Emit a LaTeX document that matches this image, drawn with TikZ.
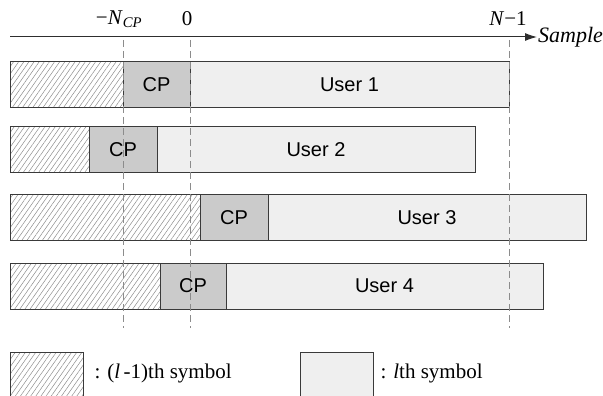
\documentclass[tikz,border=0pt]{standalone}
\usepackage{fontspec}
\setmainfont{Liberation Serif}
\setsansfont{Liberation Sans}
\usetikzlibrary{arrows.meta,positioning,patterns.meta}
\definecolor{EdgeGray}{HTML}{3A3A3A}
\definecolor{CpGray}{HTML}{CBCBCB}
\definecolor{SymGray}{HTML}{EFEFEF}
\definecolor{MarkGray}{HTML}{8C8C8C}

\begin{document}
\begin{tikzpicture}[x=1pt,y=-1pt,
        font=\fontsize{21}{24}\selectfont,
        past/.style={draw=EdgeGray,line width=1pt,outer sep=0pt,minimum height=46pt,
                     pattern={Lines[angle=55,distance=4.2pt,line width=0.5pt]},
                     pattern color=MarkGray},
        cpbox/.style={draw=EdgeGray,fill=CpGray,line width=1pt,outer sep=0pt,
                      minimum height=46pt,font=\sffamily\fontsize{20}{23}\selectfont},
        userbox/.style={draw=EdgeGray,fill=SymGray,line width=1pt,outer sep=0pt,
                        minimum height=46pt,font=\sffamily\fontsize{20}{23}\selectfont},
        sampleline/.style={MarkGray,line width=1pt,dash pattern=on 7pt off 4pt},
        axis/.style={-{Latex[length=12pt,width=8pt]},EdgeGray!80!black,line width=1pt}]
      \useasboundingbox (0,0) rectangle (603,396);
      % time axis
      \coordinate (ax0) at (10,37);
      \coordinate (ax1) at (537,37);
      \draw[axis] (ax0)--(ax1);
      \node[anchor=west,font=\itshape\fontsize{22}{24}\selectfont,inner sep=1pt] (smp) at (ax1) {Sample};
      \node (lncp) at (119,19) {−\textit{N}\textsubscript{\textit{CP}}};
      \node (lzero) at (187,19) {0};
      \node (lend) at (508,19) {\textit{N}−1};
      % users
      \node[past,minimum width=113pt,anchor=west] (p1) at (10,85) {};
      \node[cpbox,minimum width=67pt,right=0pt of p1] (c1) {CP};
      \node[userbox,minimum width=319pt,right=0pt of c1] (u1) {User 1};
      \node[past,minimum width=79pt,anchor=west] (p2) at (10,149.5) {};
      \node[cpbox,minimum width=68pt,right=0pt of p2] (c2) {CP};
      \node[userbox,minimum width=318pt,right=0pt of c2] (u2) {User 2};
      \node[past,minimum width=190pt,anchor=west] (p3) at (10,217.5) {};
      \node[cpbox,minimum width=68pt,right=0pt of p3] (c3) {CP};
      \node[userbox,minimum width=318pt,right=0pt of c3] (u3) {User 3};
      \node[past,minimum width=150pt,anchor=west] (p4) at (10,286) {};
      \node[cpbox,minimum width=66pt,right=0pt of p4] (c4) {CP};
      \node[userbox,minimum width=317pt,right=0pt of c4] (u4) {User 4};
      % sample marks, on top of the symbols
      \foreach \n/\x in {ncp/123,zero/190,end/509}{
        \coordinate (\n t) at (\x,40);
        \coordinate (\n b) at (\x,328);
        \draw[sampleline] (\n t)--(\n b);
      }
      % legend
      \node[past,minimum width=73pt,anchor=north west] (lgp) at (10,352) {};
      \node[anchor=west] (lgpt) at (91,373) {: (\textit{l}\,-1)th symbol};
      \node[userbox,minimum width=73pt,anchor=north west] (lgu) at (300,352) {};
      \node[anchor=west] (lgut) at (377,373) {: \textit{l}th symbol};
    \end{tikzpicture}
\end{document}
